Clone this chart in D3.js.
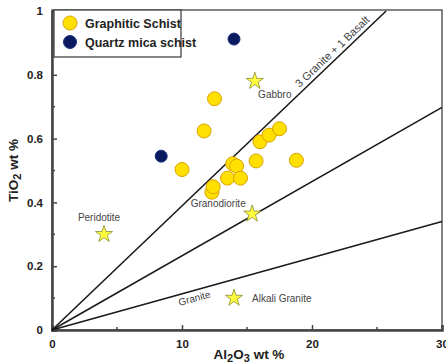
<!DOCTYPE html>
<html>
<head>
<meta charset="utf-8">
<script src="https://cdn.jsdelivr.net/npm/d3@7"></script>
<style>
  body { margin: 0; background: #fff; }
  svg { display: block; }
</style>
</head>
<body>
<svg id="chart"></svg>
<script>
// Graphitic schist samples (Al2O3 wt %, TiO2 wt %)
const schistAl = [10.0, 11.7, 12.5, 12.3, 12.4, 13.5, 13.9, 14.2, 14.5, 15.7, 16.0, 16.7, 17.5, 18.8];
const schistTi = [0.503, 0.624, 0.725, 0.432, 0.449, 0.476, 0.521, 0.514, 0.476, 0.530, 0.590, 0.611, 0.631, 0.532];

// Quartz mica schist samples
const micaAl = [8.4, 14.0];
const micaTi = [0.545, 0.912];

// reference rock compositions
const rockNames = ['Gabbro', 'Peridotite', 'Granodiorite', 'Alkali Granite'];
const rockAl = [15.6, 4.0, 15.4, 14.0];
const rockTi = [0.78, 0.30, 0.364, 0.10];

// mixing lines from the origin, end points
const lineEndAl = [25.7, 30, 30];
const lineEndTi = [1.0, 0.698, 0.34];

const xTicks = [0, 10, 20, 30];
const xMinor = [5, 15, 25];
const yTicks = [0, 0.2, 0.4, 0.6, 0.8, 1];
const yMinor = [0.1, 0.3, 0.5, 0.7, 0.9];

const W = 446, H = 364;
const margin = { top: 11, right: 4, bottom: 34, left: 52 };
const width = W - margin.left - margin.right;
const height = H - margin.top - margin.bottom;

const svg = d3.select('#chart').attr('width', W).attr('height', H);
const g = svg.append('g').attr('transform', `translate(${margin.left},${margin.top})`);

const x = d3.scaleLinear().domain([0, 30]).range([0, width]);
const y = d3.scaleLinear().domain([0, 1]).range([height, 0]);

const tickFont = 'Liberation Sans, Arial, sans-serif';

// frame
g.append('rect')
  .attr('x', 0).attr('y', -1)
  .attr('width', width).attr('height', height + 1)
  .attr('fill', 'none').attr('stroke', '#333').attr('stroke-width', 1.2);

// axes with inward ticks
const xAxis = g.append('g')
  .attr('transform', `translate(0,${height})`)
  .call(d3.axisBottom(x).tickValues(xTicks).tickSize(-5).tickPadding(10).tickFormat(d3.format('d')));
xAxis.append('g').selectAll('line').data(xMinor).join('line')
  .attr('x1', d => x(d)).attr('x2', d => x(d)).attr('y1', 0).attr('y2', -3)
  .attr('stroke', '#444').attr('stroke-width', 1.5);

const yAxis = g.append('g')
  .call(d3.axisLeft(y).tickValues(yTicks).tickSize(-5).tickPadding(9).tickFormat(d => d === 0 || d === 1 ? d3.format('d')(d) : d3.format('.1f')(d)));
yAxis.append('g').selectAll('line').data(yMinor).join('line')
  .attr('y1', d => y(d)).attr('y2', d => y(d)).attr('x1', 0).attr('x2', 3)
  .attr('stroke', '#444').attr('stroke-width', 1.5);

[xAxis, yAxis].forEach(ax => {
  ax.select('.domain').attr('stroke', '#444').attr('stroke-width', 2.5);
  ax.selectAll('.tick line').attr('stroke', '#444').attr('stroke-width', 1.5);
  ax.selectAll('.tick text')
    .attr('font-family', tickFont).attr('font-weight', 'bold')
    .attr('font-size', 11.5).attr('fill', '#222');
});

// mixing lines
g.append('g').selectAll('line').data(lineEndAl).join('line')
  .attr('x1', x(0)).attr('y1', y(0))
  .attr('x2', d => x(d)).attr('y2', (d, i) => y(lineEndTi[i]))
  .attr('stroke', '#1a1a1a').attr('stroke-width', 1.6);

// line labels rotated along the lines
const ang = i => Math.atan2(y(lineEndTi[i]) - y(0), x(lineEndAl[i]) - x(0)) * 180 / Math.PI;
const lineLabel = (txt, i, t, off, fs) => {
  const px = x(0) + (x(lineEndAl[i]) - x(0)) * t;
  const py = y(0) + (y(lineEndTi[i]) - y(0)) * t;
  g.append('text')
    .attr('transform', `translate(${px},${py}) rotate(${ang(i)}) translate(0,${off})`)
    .attr('text-anchor', 'middle')
    .attr('font-family', tickFont).attr('font-size', fs).attr('fill', '#444')
    .text(txt);
};
lineLabel('3 Granite + 1 Basalt', 0, 0.855, -4, 11);
lineLabel('Granite', 2, 0.36, 11, 10);

// graphitic schist points
g.append('g').selectAll('circle').data(schistAl).join('circle')
  .attr('cx', d => x(d)).attr('cy', (d, i) => y(schistTi[i]))
  .attr('r', 7)
  .attr('fill', '#ffe000').attr('stroke', '#d9a400').attr('stroke-width', 1);

// quartz mica schist points
g.append('g').selectAll('circle').data(micaAl).join('circle')
  .attr('cx', d => x(d)).attr('cy', (d, i) => y(micaTi[i]))
  .attr('r', 6)
  .attr('fill', '#0a1a5e').attr('stroke', '#1b2f80').attr('stroke-width', 1);

// reference rocks
const star = d3.symbol().type(d3.symbolStar).size(90);
g.append('g').selectAll('path').data(rockAl).join('path')
  .attr('transform', (d, i) => `translate(${x(d)},${y(rockTi[i])})`)
  .attr('d', star)
  .attr('fill', '#ffff40').attr('stroke', '#8a8a30').attr('stroke-width', 0.8);

// rock labels: [dx, dy, anchor]
const rockLabelPos = [[20, 17, 'middle'], [-5, -13, 'middle'], [-34, -7, 'middle'], [18, 4, 'start']];
g.append('g').selectAll('text').data(rockNames).join('text')
  .attr('x', (d, i) => x(rockAl[i]) + rockLabelPos[i][0])
  .attr('y', (d, i) => y(rockTi[i]) + rockLabelPos[i][1])
  .attr('text-anchor', (d, i) => rockLabelPos[i][2])
  .attr('font-family', tickFont).attr('font-size', 10).attr('fill', '#444')
  .text(d => d);

// legend
const leg = g.append('g').attr('transform', 'translate(2,-1)');
leg.append('rect')
  .attr('width', 127).attr('height', 47)
  .attr('fill', '#fff').attr('stroke', '#444').attr('stroke-width', 1.3);
const legItems = [
  { label: 'Graphitic Schist', fill: '#ffe000', stroke: '#d9a400', r: 7 },
  { label: 'Quartz mica schist', fill: '#0a1a5e', stroke: '#1b2f80', r: 6.5 }
];
legItems.forEach((it, i) => {
  const row = leg.append('g').attr('transform', `translate(0,${13 + i * 19})`);
  row.append('circle').attr('cx', 16).attr('cy', 0).attr('r', it.r)
    .attr('fill', it.fill).attr('stroke', it.stroke);
  row.append('text').attr('x', 31).attr('y', 4.5)
    .attr('font-family', 'Liberation Sans Narrow, Arial Narrow, sans-serif')
    .attr('font-weight', 'bold').attr('font-size', 12.5).attr('fill', '#222')
    .text(it.label);
});

// axis titles
const xTitle = svg.append('text')
  .attr('x', margin.left + width / 2 + 2).attr('y', H - 5)
  .attr('text-anchor', 'middle')
  .attr('font-family', tickFont).attr('font-weight', 'bold').attr('font-size', 13.5).attr('fill', '#222');
xTitle.append('tspan').text('Al');
xTitle.append('tspan').attr('dy', 3).attr('font-size', 11).text('2');
xTitle.append('tspan').attr('dy', -3).text('O');
xTitle.append('tspan').attr('dy', 3).attr('font-size', 11).text('3');
xTitle.append('tspan').attr('dy', -3).text(' wt %');

const yTitle = svg.append('text')
  .attr('transform', `translate(18,${margin.top + height / 2}) rotate(-90)`)
  .attr('text-anchor', 'middle')
  .attr('font-family', tickFont).attr('font-weight', 'bold').attr('font-size', 13.5).attr('fill', '#222');
yTitle.append('tspan').text('TiO');
yTitle.append('tspan').attr('dy', 3).attr('font-size', 11).text('2');
yTitle.append('tspan').attr('dy', -3).text(' wt %');
</script>
</body>
</html>
